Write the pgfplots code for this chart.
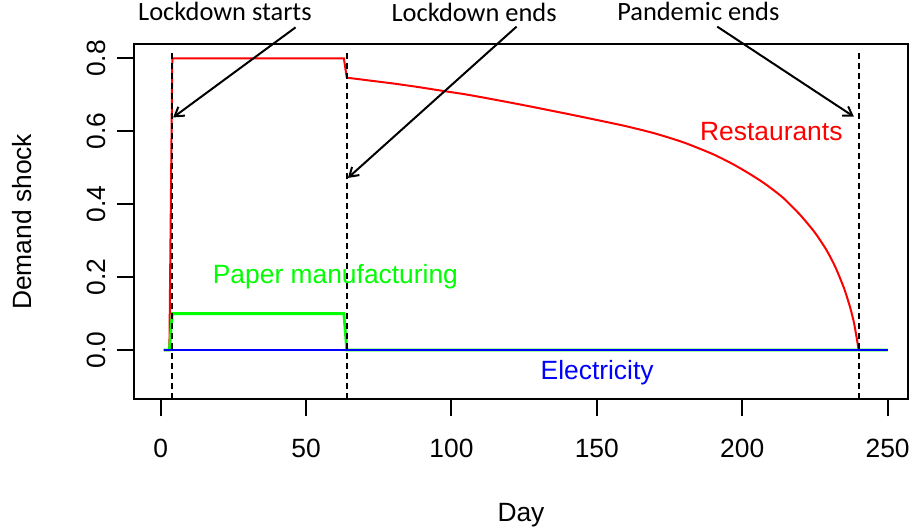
\documentclass[border=0pt]{standalone}
\usepackage{fontspec}
\setmainfont{Liberation Sans}
\newfontfamily\calib{Carlito}
\usepackage{pgfplots}
\pgfplotsset{compat=1.18}
\usetikzlibrary{arrows.meta}
\newcommand\rf{\fontsize{13.2}{15.8}\selectfont}
\newcommand\cf{\calib\fontsize{13.2}{15.8}\selectfont}
\definecolor{rred}{RGB}{255,0,0}
\definecolor{rgreen}{RGB}{0,255,0}
\definecolor{rblue}{RGB}{0,0,255}
\begin{document}
\begin{tikzpicture}
\begin{axis}[
  scale only axis, width=387pt, height=177.5pt,
  xmin=-9.18, xmax=257, ymin=-0.135, ymax=0.8385,
  axis line style={line width=1pt},
  xtick={0,50,100,150,200,250}, ytick={0,0.2,0.4,0.6,0.8},
  xtick pos=bottom, ytick pos=left,
  tick align=outside, major tick length=8.5pt,
  tick style={line width=1pt, black},
  /pgf/number format/assume math mode=true,
  tick label style={font=\rf},
  x tick label style={anchor=north, inner sep=0pt},
  xticklabel shift=11.4pt,
  y tick label style={rotate=90, anchor=south, inner sep=0pt,
     /pgf/number format/.cd, fixed, fixed zerofill, precision=1, /tikz/.cd},
  yticklabel shift=5.5pt,
  clip=false,
  xlabel={Day}, ylabel={Demand shock},
  label style={font=\rf},
  xlabel style={at={(axis description cs:0.5,-0.326)}, anchor=center},
  ylabel style={at={(axis description cs:-0.145,0.5)}, anchor=center},
]
\addplot[rred, line width=1pt] coordinates {
(1,0) (3,0) (4,0.8) (63,0.8) (64,0.747)
};
\addplot[rred, line width=1pt, smooth, tension=0.4] coordinates {
(64,0.747) (72,0.739) (80,0.731) (88,0.722) (96,0.712) (105,0.701)
(113,0.6895) (122,0.676) (130,0.6635) (140,0.6475) (150,0.631) (160,0.614)
(170,0.594) (180,0.569) (190,0.537) (197,0.509) (203,0.481) (208,0.455)
(214,0.418) (220,0.370) (225,0.322) (229,0.274) (232,0.228) (235,0.170)
(237,0.120) (238.3,0.080) (239,0.050) (239.6,0.022) (240,0)
};
\addplot[rred, line width=1pt] coordinates {(240,0) (250,0)};
\addplot[rgreen, line width=1.4pt] coordinates {
(1,0) (3,0) (4,0.1) (63,0.1) (64,0) (250,0)
};
\addplot[rblue, line width=1.4pt] coordinates {(1,0) (250,0)};
\addplot[black, line width=1pt, dash pattern=on 3pt off 2pt] coordinates {(4,-0.135) (4,0.82)};
\addplot[black, line width=1pt, dash pattern=on 3pt off 2pt] coordinates {(64,-0.135) (64,0.82)};
\addplot[black, line width=1pt, dash pattern=on 3pt off 2pt] coordinates {(240,-0.135) (240,0.82)};

\draw[line width=1pt, -{Straight Barb[length=4.3pt,width=5.5pt]}] (axis cs:46.4,0.885) -- (axis cs:4.3,0.638);
\draw[line width=1pt, -{Straight Barb[length=4.3pt,width=5.5pt]}] (axis cs:122.4,0.887) -- (axis cs:64.4,0.472);
\draw[line width=1pt, -{Straight Barb[length=4.3pt,width=5.5pt]}] (axis cs:191.4,0.887) -- (axis cs:238.4,0.640);

\node[anchor=base, inner sep=0pt, font=\cf] at (axis cs:22.1,0.903) {Lockdown starts};
\node[anchor=base, inner sep=0pt, font=\cf] at (axis cs:107.8,0.9004) {Lockdown ends};
\node[anchor=base, inner sep=0pt, font=\cf] at (axis cs:184.9,0.903) {Pandemic ends};
\node[anchor=base, inner sep=0pt, font=\rf, text=rred] at (axis cs:210,0.574) {Restaurants};
\node[anchor=base, inner sep=0pt, font=\rf, text=rgreen] at (axis cs:60.1,0.183) {Paper manufacturing};
\node[anchor=base, inner sep=0pt, font=\rf, text=rblue] at (axis cs:150.1,-0.082) {Electricity};

\coordinate (bbSW) at (axis description cs:-0.1731,-0.371);
\coordinate (bbNE) at (axis description cs:1.0039,1.1248);
\end{axis}
\pgfresetboundingbox
\path[use as bounding box] (bbSW) rectangle (bbNE);
\end{tikzpicture}
\end{document}
